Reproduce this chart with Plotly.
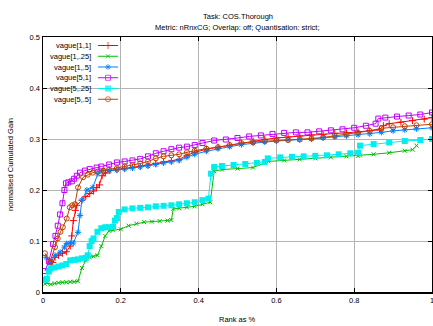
import plotly.graph_objects as go

# ---------------- data ----------------
names = ["vague[1,1]", "vague[1,.25]", "vague[1,.5]", "vague[5,1]", "vague[5,.25]", "vague[5,.5]"]

red_x = [0.018, 0.025, 0.031, 0.04, 0.05, 0.06, 0.07, 0.074, 0.078, 0.083, 0.087, 0.1, 0.11, 0.12, 0.13, 0.138, 0.145,
         0.152, 0.16, 0.172, 0.19, 0.21, 0.23, 0.25, 0.27, 0.29, 0.31, 0.33, 0.35, 0.37, 0.39, 0.42, 0.45, 0.48, 0.51,
         0.54, 0.57, 0.6, 0.63, 0.66, 0.69, 0.72, 0.75, 0.78, 0.81, 0.84, 0.865, 0.875, 0.89, 0.92, 0.95, 0.98, 1.0]
red_y = [0.043, 0.058, 0.068, 0.072, 0.076, 0.079, 0.09, 0.11, 0.14, 0.16, 0.17, 0.18, 0.187, 0.193, 0.198, 0.205, 0.21,
         0.228, 0.233, 0.238, 0.24, 0.242, 0.244, 0.246, 0.249, 0.252, 0.255, 0.257, 0.26, 0.268, 0.274, 0.28, 0.284,
         0.288, 0.292, 0.296, 0.299, 0.302, 0.304, 0.306, 0.308, 0.309, 0.311, 0.312, 0.314, 0.316, 0.318, 0.326, 0.33,
         0.333, 0.336, 0.339, 0.342]

green_x = [0.005, 0.01, 0.02, 0.03, 0.04, 0.05, 0.06, 0.07, 0.08, 0.09, 0.1, 0.11, 0.12, 0.13, 0.14, 0.15, 0.16, 0.17,
           0.18, 0.2, 0.22, 0.24, 0.26, 0.28, 0.30, 0.32, 0.33, 0.335, 0.35, 0.37, 0.39, 0.41, 0.43, 0.44, 0.46, 0.5,
           0.54, 0.58, 0.62, 0.66, 0.70, 0.74, 0.78, 0.81, 0.815, 0.85, 0.89, 0.93, 0.95, 0.96]
green_y = [0.016, 0.018, 0.015, 0.017, 0.018, 0.019, 0.019, 0.020, 0.020, 0.021, 0.047, 0.062, 0.068, 0.07, 0.072, 0.09,
           0.11, 0.12, 0.121, 0.123, 0.13, 0.134, 0.137, 0.138, 0.139, 0.140, 0.141, 0.163, 0.164, 0.166, 0.168, 0.172,
           0.176, 0.237, 0.240, 0.242, 0.244, 0.256, 0.258, 0.260, 0.262, 0.264, 0.266, 0.267, 0.268, 0.270, 0.273,
           0.277, 0.279, 0.287]

blue_x = [0.008, 0.018, 0.031, 0.044, 0.055, 0.061, 0.07, 0.078, 0.09, 0.095, 0.1, 0.113, 0.128, 0.141, 0.154, 0.17,
          0.19, 0.21, 0.23, 0.25, 0.27, 0.29, 0.31, 0.33, 0.35, 0.37, 0.39, 0.42, 0.45, 0.48, 0.51, 0.54, 0.57, 0.6,
          0.63, 0.66, 0.69, 0.72, 0.75, 0.78, 0.81, 0.84, 0.87, 0.9, 0.93, 0.96, 1.0]
blue_y = [0.068, 0.057, 0.072, 0.078, 0.088, 0.095, 0.096, 0.096, 0.117, 0.15, 0.18, 0.2, 0.205, 0.232, 0.238, 0.238,
          0.239, 0.241, 0.243, 0.245, 0.247, 0.25, 0.253, 0.255, 0.258, 0.264, 0.27, 0.276, 0.281, 0.285, 0.289, 0.292,
          0.294, 0.296, 0.298, 0.299, 0.300, 0.302, 0.304, 0.306, 0.308, 0.31, 0.313, 0.316, 0.318, 0.32, 0.322]

purple_x = [0.005, 0.015, 0.026, 0.032, 0.038, 0.044, 0.05, 0.055, 0.059, 0.065, 0.074, 0.08, 0.087, 0.095, 0.108, 0.12,
            0.138, 0.15, 0.17, 0.19, 0.21, 0.23, 0.25, 0.27, 0.29, 0.31, 0.33, 0.35, 0.37, 0.39, 0.41, 0.44, 0.47, 0.5,
            0.53, 0.56, 0.59, 0.62, 0.65, 0.68, 0.71, 0.74, 0.77, 0.8, 0.83, 0.855, 0.862, 0.88, 0.91, 0.94, 0.97, 1.0]
purple_y = [0.041, 0.06, 0.094, 0.11, 0.13, 0.152, 0.174, 0.2, 0.213, 0.215, 0.217, 0.222, 0.228, 0.234, 0.238, 0.241,
            0.244, 0.246, 0.25, 0.254, 0.256, 0.258, 0.261, 0.266, 0.272, 0.276, 0.28, 0.283, 0.285, 0.288, 0.292,
            0.297, 0.299, 0.302, 0.305, 0.307, 0.31, 0.312, 0.313, 0.313, 0.315, 0.317, 0.319, 0.322, 0.326, 0.33,
            0.34, 0.342, 0.344, 0.346, 0.348, 0.352]

cyan_x = [0.005, 0.01, 0.015, 0.02, 0.03, 0.04, 0.05, 0.06, 0.07, 0.08, 0.09, 0.1, 0.11, 0.115, 0.12, 0.125, 0.13, 0.14,
          0.15, 0.16, 0.17, 0.18, 0.185, 0.19, 0.195, 0.21, 0.23, 0.25, 0.27, 0.29, 0.31, 0.33, 0.35, 0.37, 0.39, 0.41,
          0.425, 0.432, 0.44, 0.46, 0.49, 0.52, 0.55, 0.57, 0.578, 0.61, 0.64, 0.67, 0.70, 0.73, 0.76, 0.79, 0.81,
          0.815, 0.85, 0.89, 0.93, 0.97, 1.0]
cyan_y = [0.024, 0.026, 0.04, 0.046, 0.048, 0.05, 0.052, 0.055, 0.062, 0.063, 0.064, 0.066, 0.067, 0.072, 0.09, 0.1,
          0.105, 0.118, 0.125, 0.127, 0.127, 0.128, 0.14, 0.145, 0.157, 0.162, 0.164, 0.165, 0.166, 0.168, 0.169, 0.17,
          0.172, 0.174, 0.176, 0.18, 0.183, 0.232, 0.245, 0.247, 0.249, 0.251, 0.253, 0.255, 0.262, 0.264, 0.265,
          0.266, 0.267, 0.268, 0.270, 0.272, 0.273, 0.287, 0.290, 0.293, 0.296, 0.298, 0.300]

brown_x = [0.005, 0.018, 0.031, 0.038, 0.045, 0.051, 0.061, 0.069, 0.075, 0.082, 0.09, 0.103, 0.115, 0.128, 0.14, 0.155,
           0.17, 0.19, 0.21, 0.23, 0.25, 0.27, 0.29, 0.31, 0.33, 0.35, 0.37, 0.39, 0.42, 0.45, 0.48, 0.51, 0.54, 0.57,
           0.6, 0.63, 0.66, 0.69, 0.72, 0.75, 0.78, 0.81, 0.84, 0.87, 0.9, 0.93, 0.96, 1.0]
brown_y = [0.076, 0.059, 0.088, 0.105, 0.118, 0.127, 0.144, 0.166, 0.17, 0.172, 0.205, 0.225, 0.23, 0.234, 0.236, 0.238,
           0.24, 0.243, 0.246, 0.249, 0.252, 0.256, 0.262, 0.266, 0.268, 0.27, 0.274, 0.277, 0.281, 0.284, 0.288, 0.292,
           0.294, 0.296, 0.297, 0.298, 0.299, 0.301, 0.303, 0.306, 0.309, 0.312, 0.316, 0.321, 0.323, 0.325, 0.327,
           0.329]

x_ticks = [0, 0.2, 0.4, 0.6, 0.8, 1.0]
x_tick_labels = ["0", "0.2", "0.4", "0.6", "0.8", "1"]
y_ticks = [0, 0.1, 0.2, 0.3, 0.4, 0.5]
y_tick_labels = ["0", "0.1", "0.2", "0.3", "0.4", "0.5"]

title_lines = ["Task: COS.Thorough", "Metric: nRnxCG; Overlap: off; Quantisation: strict;"]
x_title = "Rank as %"
y_title = "normalised Cumulated Gain"

# ---------------- styling ----------------
W, H = 433, 326
L, R, T, B = 43, 1, 37, 34
PW, PH = W - L - R, H - T - B
FONT = "Liberation Sans, Arial, sans-serif"
FS = 7.5

series = [
    (red_x, red_y, "#ff0000", "cross-thin-open", 5),
    (green_x, green_y, "#00c000", "x-thin-open", 4),
    (blue_x, blue_y, "#0080ff", "asterisk-open", 5),
    (purple_x, purple_y, "#c000ff", "square-open", 5),
    (cyan_x, cyan_y, "#00eeee", "square", 6),
    (brown_x, brown_y, "#c04000", "circle-open", 5),
]

fig = go.Figure()
for name, (xs, ys, col, sym, sz) in zip(names, series):
    fig.add_trace(go.Scatter(
        x=xs, y=ys, mode="lines+markers", name=name, showlegend=False,
        line=dict(color=col, width=1),
        marker=dict(symbol=sym, size=sz, color=col,
                    line=dict(color=col, width=0 if sym == "square" else 1)),
    ))


def px2paper_x(px):
    return (px - L) / PW


def px2paper_y(py):
    return (H - B - py) / PH


# manual key (gnuplot style: text right-aligned, sample to the right)
key_text_x = px2paper_x(93)
key_x0, key_xm, key_x1 = px2paper_x(98), px2paper_x(108), px2paper_x(118)
annotations = []
for i, (name, (xs, ys, col, sym, sz)) in enumerate(zip(names, series)):
    yy = px2paper_y(45.5 + 10.75 * i)
    fig.add_trace(go.Scatter(
        x=[key_x0, key_xm, key_x1], y=[yy, yy, yy], xaxis="x2", yaxis="y2",
        mode="lines+markers", showlegend=False, hoverinfo="skip",
        line=dict(color=col, width=1),
        marker=dict(symbol=sym, size=[0, sz, 0], color=col,
                    line=dict(color=col, width=0 if sym == "square" else 1)),
    ))
    annotations.append(dict(x=key_text_x, y=yy, xref="paper", yref="paper", text=name,
                            showarrow=False, xanchor="right", yanchor="middle",
                            font=dict(size=FS, color="black", family=FONT)))

# titles as text placed in the margins
annotations.append(dict(x=0.5, y=px2paper_y(16), xref="paper", yref="paper", text=title_lines[0],
                        showarrow=False, xanchor="center", yanchor="middle",
                        font=dict(size=FS, color="black", family=FONT)))
annotations.append(dict(x=0.5, y=px2paper_y(28), xref="paper", yref="paper", text=title_lines[1],
                        showarrow=False, xanchor="center", yanchor="middle",
                        font=dict(size=FS, color="black", family=FONT)))
annotations.append(dict(x=0.5, y=px2paper_y(319), xref="paper", yref="paper", text=x_title,
                        showarrow=False, xanchor="center", yanchor="middle",
                        font=dict(size=FS, color="black", family=FONT)))
annotations.append(dict(x=px2paper_x(10), y=px2paper_y(165), xref="paper", yref="paper", text=y_title,
                        showarrow=False, xanchor="center", yanchor="middle", textangle=-90,
                        font=dict(size=FS, color="black", family=FONT)))

axis_common = dict(showline=True, linecolor="black", linewidth=1.5, mirror="ticks",
                   ticks="inside", ticklen=4, tickcolor="black", tickwidth=1,
                   showgrid=True, gridcolor="#b4b4b4", gridwidth=1, zeroline=False, automargin=False,
                   ticklabeloverflow="allow",
                   tickfont=dict(size=FS, color="black", family=FONT))

fig.update_layout(
    width=W, height=H,
    margin=dict(l=L, r=R, t=T, b=B, pad=0),
    paper_bgcolor="white", plot_bgcolor="white",
    showlegend=False, hovermode=False,
    xaxis=dict(range=[0, 1], tickvals=x_ticks, ticktext=x_tick_labels, **axis_common),
    yaxis=dict(range=[0, 0.5], tickvals=y_ticks, ticktext=y_tick_labels, **axis_common),
    xaxis2=dict(range=[0, 1], overlaying="x", visible=False, fixedrange=True),
    yaxis2=dict(range=[0, 1], overlaying="y", visible=False, fixedrange=True),
    annotations=annotations,
    shapes=[dict(type="rect", xref="paper", yref="paper", x0=0, x1=px2paper_x(122),
                 y0=px2paper_y(105), y1=1, fillcolor="white", line=dict(width=0), layer="between")],
)

fig.write_html("out.html", config={"displayModeBar": False, "staticPlot": True},
               post_script="document.body.style.margin='0';document.body.style.overflow='hidden';")
